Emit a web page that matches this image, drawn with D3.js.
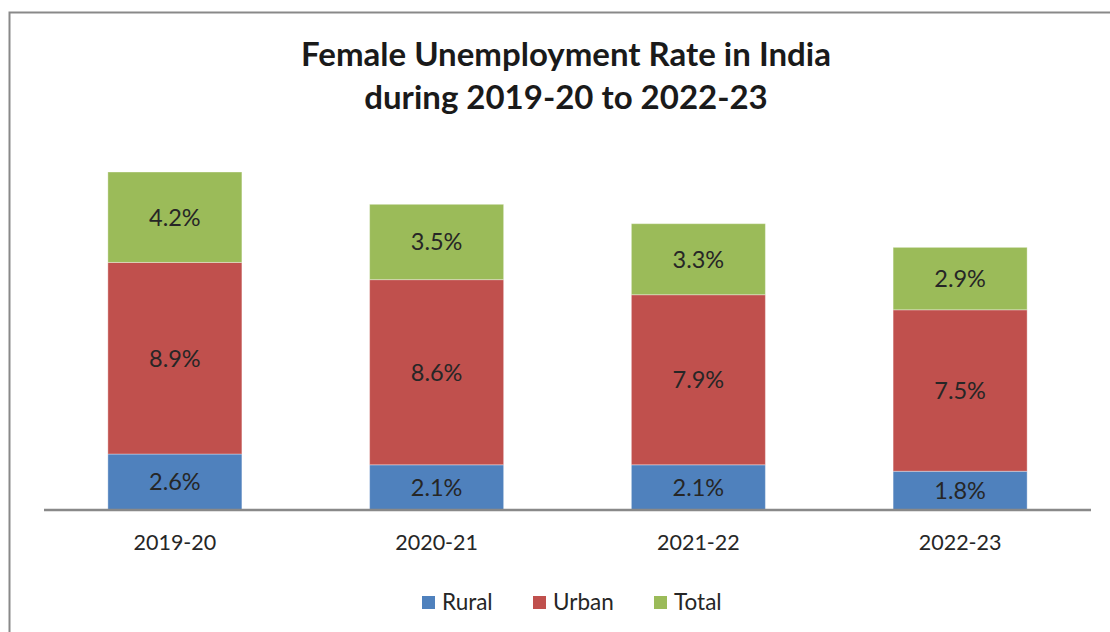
<!DOCTYPE html>
<html><head><meta charset="utf-8">
<script src="https://cdn.jsdelivr.net/npm/d3@7"></script>
<style>body{margin:0;background:#fff}svg{display:block}</style>
</head><body>
<svg id="c" width="1110" height="632"></svg>
<script>
const categories = ["2019-20","2020-21","2021-22","2022-23"];
const seriesNames = ["Rural","Urban","Total"];
const rural = [2.6,2.1,2.1,1.8];
const urban = [8.9,8.6,7.9,7.5];
const total = [4.2,3.5,3.3,2.9];
const colors = ["#4F81BD","#C0504D","#9BBB59"];

const svg = d3.select("#c");
const font = "Lato, 'Open Sans', sans-serif";
svg.append("rect").attr("x",9.5).attr("y",12.5).attr("width",1120).attr("height",640)
  .attr("fill","#fff").attr("stroke","#898989").attr("stroke-width",2);

const rows = categories.map((c,i)=>({cat:c, Rural:rural[i], Urban:urban[i], Total:total[i]}));
const stack = d3.stack().keys(seriesNames)(rows);
const x = d3.scaleBand().domain(categories).range([44,1091]).paddingInner(0.488).paddingOuter(0.244);
const y = d3.scaleLinear().domain([0,18]).range([510,122.5]);

const g = svg.append("g");
stack.forEach((s,si)=>{
  const grp = g.append("g");
  grp.selectAll("rect").data(s).join("rect")
    .attr("x",d=>x(d.data.cat)).attr("width",x.bandwidth())
    .attr("y",d=>y(d[1])).attr("height",d=>y(d[0])-y(d[1]))
    .attr("fill",colors[si]).attr("stroke","rgba(255,255,255,0.35)").attr("stroke-width",1);
  grp.selectAll("text").data(s).join("text")
    .attr("x",d=>x(d.data.cat)+x.bandwidth()/2).attr("y",d=>(y(d[0])+y(d[1]))/2)
    .attr("dy","0.36em").attr("text-anchor","middle")
    .attr("font-family",font).attr("font-size",23.5).attr("fill","#262626")
    .text(d=>d3.format(".1f")(d[1]-d[0])+"%");
});

const ax = svg.append("g").attr("transform","translate(0,510)")
  .call(d3.axisBottom(x).tickSize(0).tickPadding(25));
ax.select(".domain").attr("stroke","#898989").attr("stroke-width",2.5).attr("d","M44,0H1091");
ax.selectAll("text").attr("font-family",font).attr("font-size",21.5).attr("fill","#262626");

const title = svg.append("text").attr("text-anchor","middle").attr("font-family",font)
  .attr("font-weight","bold").attr("font-size",33).attr("fill","#1a1a1a");
title.append("tspan").attr("x",566).attr("y",66).text("Female Unemployment Rate in India");
title.append("tspan").attr("x",566).attr("y",109).text("during 2019-20 to 2022-23");

const legX = [422,533,654];
const leg = svg.append("g");
seriesNames.forEach((n,i)=>{
  leg.append("rect").attr("x",legX[i]).attr("y",596).attr("width",13).attr("height",13).attr("fill",colors[i]);
  leg.append("text").attr("x",legX[i]+20).attr("y",602).attr("dy","0.36em")
    .attr("font-family",font).attr("font-size",22.5).attr("fill","#262626").text(n);
});
</script>
</body></html>
